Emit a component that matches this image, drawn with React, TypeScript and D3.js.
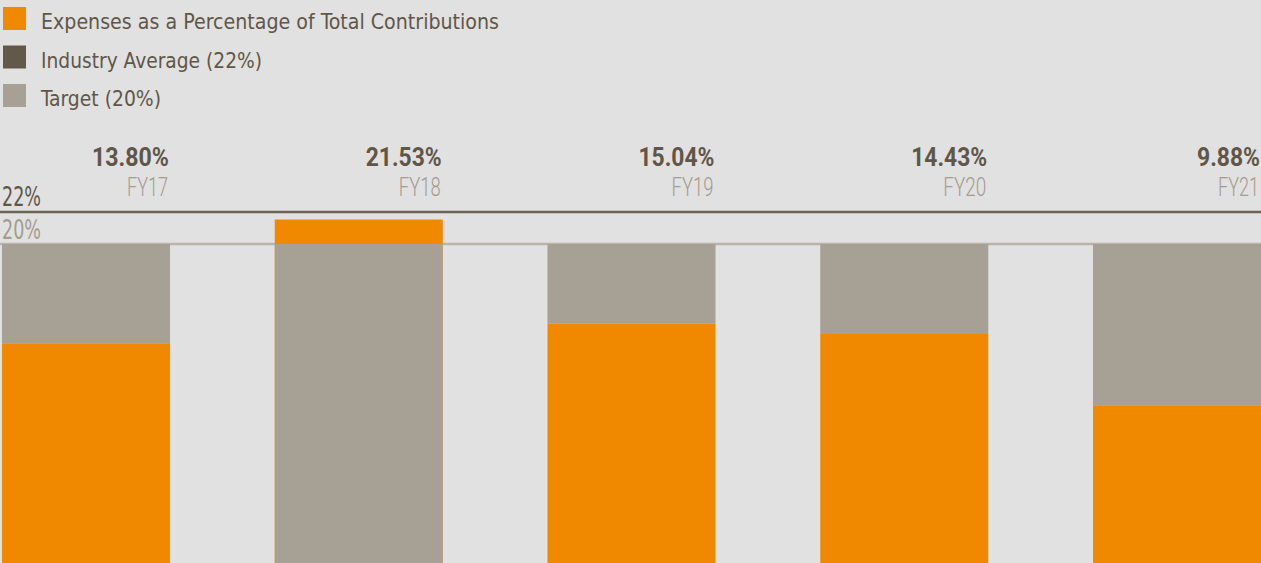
import React from "react";
import * as d3 from "d3";

const categories = ["FY17", "FY18", "FY19", "FY20", "FY21"];
const expenseValues = [13.8, 21.53, 15.04, 14.43, 9.88];
const valueLabels = ["13.80%", "21.53%", "15.04%", "14.43%", "9.88%"];
const industryAverage = 22;
const target = 20;
const legendLabels = [
  "Expenses as a Percentage of Total Contributions",
  "Industry Average (22%)",
  "Target (20%)",
];
const legendColors = ["#f08900", "#62594b", "#a7a095"];
const legendTextWidths = [458, 221, 120];
const valueLabelWidths = [77, 76, 76, 76, 63];
const catLabelWidths = [41, 42, 42, 43, 41];

const W = 1261;
const H = 563;
const ORANGE = "#f08900";
const GRAY = "#a7a095";
const DARK = "#5f5648";
const LIGHT_TEXT = "#a39c90";
const BG = "#e1e1e1";
const condensed = "'DejaVu Sans Condensed', 'Liberation Sans Narrow', Roboto, sans-serif";

export default function App() {
  const x = d3.scaleBand<string>().domain(categories).range([2, W]).paddingInner(0.384).paddingOuter(0);
  const y = d3.scaleLinear().domain([0, industryAverage]).range([564, 212]);
  const bw = x.bandwidth();

  return (
    <div style={{ position: "absolute", left: 0, top: 0, width: W, height: H, background: BG }}>
      <svg width={W} height={H} style={{ display: "block" }}>
        <rect x={0} y={0} width={W} height={H} fill={BG} />
        {/* legend */}
        {legendLabels.map((l, i) => (
          <g key={l} transform={`translate(3, ${7 + i * 38.5})`}>
            <rect x={0} y={0} width={23} height={23} fill={legendColors[i]} />
            <text
              x={38}
              y={22}
              fontFamily={condensed}
              fontSize={21.5}
              fill={DARK}
              textLength={legendTextWidths[i]}
              lengthAdjust="spacingAndGlyphs"
            >
              {l}
            </text>
          </g>
        ))}
        {/* target line */}
        <line x1={0} x2={W} y1={y(target)} y2={y(target)} stroke="#bab4aa" strokeWidth={2.4} />
        {/* bars */}
        {categories.map((c, i) => {
          const v = expenseValues[i];
          const x0 = x(c)!;
          const grayBottom = v > target ? 0 : v;
          return (
            <g key={c}>
              <rect x={x0} y={y(v)} width={bw} height={y(0) - y(v)} fill={ORANGE} />
              <rect x={x0} y={y(target)} width={bw} height={y(grayBottom) - y(target)} fill={GRAY} />
              <text
                x={x0 + bw - 1}
                y={166}
                textAnchor="end"
                fontFamily="Roboto, sans-serif"
                fontWeight={700}
                fontSize={25}
                fill={DARK}
                textLength={valueLabelWidths[i]}
                lengthAdjust="spacingAndGlyphs"
              >
                {valueLabels[i]}
              </text>
              <text
                x={x0 + bw - 2}
                y={196}
                textAnchor="end"
                fontFamily="Roboto, sans-serif"
                fontWeight={300}
                fontSize={25}
                fill={LIGHT_TEXT}
                textLength={catLabelWidths[i]}
                lengthAdjust="spacingAndGlyphs"
              >
                {c}
              </text>
            </g>
          );
        })}
        {/* industry average line */}
        <line x1={0} x2={W} y1={y(industryAverage)} y2={y(industryAverage)} stroke="#6b6354" strokeWidth={2.6} />
        <text x={2} y={206} fontFamily={condensed} fontSize={27} fill={DARK} textLength={39} lengthAdjust="spacingAndGlyphs">
          {industryAverage}%
        </text>
        <text x={2} y={239} fontFamily={condensed} fontSize={27} fill={LIGHT_TEXT} textLength={39} lengthAdjust="spacingAndGlyphs">
          {target}%
        </text>
      </svg>
    </div>
  );
}
